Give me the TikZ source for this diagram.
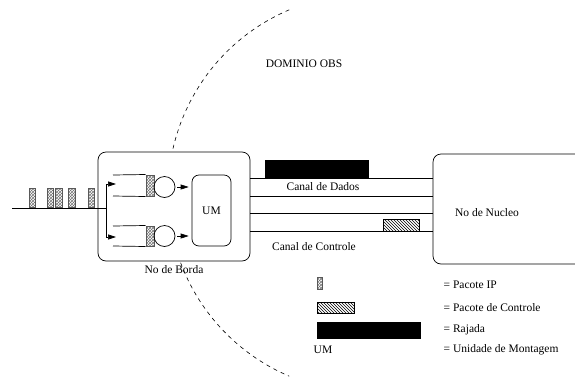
\documentclass[tikz,border=0pt]{standalone}
\usepackage{fontspec}
\setmainfont{Liberation Serif}
\usetikzlibrary{patterns,arrows.meta}

\begin{document}
\begin{tikzpicture}[x=1pt,y=-1pt,line width=0.7pt,
  font=\fontsize{11.5}{13}\selectfont,
  nobox/.style={draw,rounded corners=8pt,fill=white,inner sep=0pt},
  ippkt/.style={draw=black!65,line width=1pt,pattern=crosshatch,pattern color=black!55,inner sep=0pt},
  ctrlpkt/.style={draw,line width=0.5pt,pattern=north west lines,inner sep=0pt},
  burst/.style={fill=black,inner sep=0pt},
  server/.style={draw,circle,minimum size=21pt,inner sep=0pt},
  tip/.style={-{Triangle[length=8pt,width=5pt]}}]
\useasboundingbox (0,0) rectangle (575,378);
% dominio OBS
\coordinate (obs) at (367,193);
\draw[dash pattern=on 4pt off 4pt,line width=0.6pt] (obs) ++(-113:199) arc[start angle=113,end angle=247,radius=199pt];
\node (dominio) at (304,64) {DOMINIO OBS};
% nos
\node[nobox,minimum width=152,minimum height=109] (borda) at (174,206.5) {};
\node[nobox,minimum width=187,minimum height=110] (nucleo) at (526.5,209) {};
\node (bordalbl) at (174,270) {No de Borda};
\node (nucleolbl) at (487,213) {No de Nucleo};
\node[nobox,rounded corners=7pt,minimum width=39,minimum height=71] (um) at (211.5,210.5) {UM};
% entrada
\coordinate (in) at (12,208);
\coordinate (split) at (106,208);
\coordinate (splitt) at (106,184);
\coordinate (splitb) at (106,237);
\draw (in) -- (split);
\draw (splitt) -- (splitb);
\draw[tip] (splitt) -- (116,184);
\draw[tip] (splitb) -- (116,237);
\node[ippkt,minimum width=6.5,minimum height=19] (ip1) at (32.5,197.5) {};
\node[ippkt,minimum width=6.5,minimum height=19] (ip2) at (50.5,197.5) {};
\node[ippkt,minimum width=6.5,minimum height=19] (ip3) at (59,197.5) {};
\node[ippkt,minimum width=6.5,minimum height=19] (ip4) at (72,197.5) {};
\node[ippkt,minimum width=6.5,minimum height=19] (ip5) at (91.5,197.5) {};
% filas
\node[ippkt,minimum width=8,minimum height=21] (qa) at (150,185.5) {};
\node[ippkt,minimum width=8,minimum height=20] (qb) at (150,236) {};
\draw (113,175) -- (qa.north west);
\draw (113,196) -- (qa.south west);
\draw (113,226) -- (qb.north west);
\draw (113,246) -- (qb.south west);
\node[server] (sa) at (164.5,187) {};
\node[server] (sb) at (164.5,236) {};
\draw[tip] ([xshift=2pt]sa.east) -- ([xshift=-3pt]um.west |- sa.east);
\draw[tip] ([xshift=2pt]sb.east) -- ([xshift=-3pt]um.west |- sb.east);
% canais
\draw (borda.east |- 0,178) -- (nucleo.west |- 0,178);
\draw (borda.east |- 0,196) -- (nucleo.west |- 0,196);
\draw (borda.east |- 0,213) -- (nucleo.west |- 0,213);
\draw (borda.east |- 0,231) -- (nucleo.west |- 0,231);
\node[burst,minimum width=104,minimum height=18] (rajada) at (317,169) {};
\node[ctrlpkt,minimum width=36,minimum height=12] (ctrl) at (401,225) {};
\node (dados) at (323,187) {Canal de Dados};
\node (controle) at (314,247) {Canal de Controle};
% legenda
\node[ippkt,line width=0.7pt,minimum width=5,minimum height=12] (legip) at (319.5,283) {};
\node[ctrlpkt,minimum width=37,minimum height=11] (legctrl) at (335.5,307.5) {};
\node[burst,minimum width=104,minimum height=17] (legraj) at (369,330.5) {};
\node (legum) at (323,350) {UM};
\node[anchor=west] (tip) at (440,285) {= Pacote IP};
\node[anchor=west] (tctrl) at (440,308) {= Pacote de Controle};
\node[anchor=west] (traj) at (440,330) {= Rajada};
\node[anchor=west] (tum) at (440,350) {= Unidade de Montagem};
\end{tikzpicture}
\end{document}
